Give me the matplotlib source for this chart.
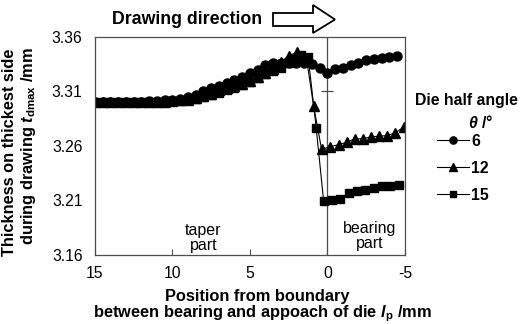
import matplotlib
matplotlib.use('Agg')
import matplotlib.pyplot as plt
from matplotlib.patches import Polygon

plt.rcParams['font.family'] = ['Liberation Sans', 'DejaVu Sans']
plt.rcParams['mathtext.fontset'] = 'custom'
plt.rcParams['mathtext.rm'] = 'Liberation Sans'
plt.rcParams['mathtext.it'] = 'Liberation Sans:italic'
plt.rcParams['mathtext.bf'] = 'Liberation Sans:bold'
plt.rcParams['mathtext.bfit'] = 'Liberation Sans:italic:bold'

# Die half angle 6 deg (circles)
x_6 = [15, 14.5, 14, 13.5, 13, 12.5, 12, 11.5, 11, 10.5, 10, 9.5, 9, 8.5, 8, 7.5, 7, 6.5, 6, 5.5,
       5, 4.5, 4, 3.5, 3, 2.5, 2, 1.5, 1, 0.5, 0, -0.5, -1, -1.5, -2, -2.5, -3, -3.5, -4, -4.5]
t_6 = [3.300, 3.300, 3.300, 3.300, 3.300, 3.300, 3.300, 3.301, 3.301, 3.302, 3.302, 3.303, 3.305,
       3.307, 3.310, 3.313, 3.315, 3.318, 3.3205, 3.323, 3.327, 3.330, 3.334, 3.336, 3.336, 3.336,
       3.336, 3.336, 3.335, 3.332, 3.327, 3.3307, 3.332, 3.3344, 3.336, 3.3386, 3.340, 3.341,
       3.342, 3.343]

# 12 deg (triangles)
x_12 = [15, 14.5, 14, 13.5, 13, 12.5, 12, 11.5, 11, 10.5, 10, 9.5, 9, 8.5, 8, 7.5, 7, 6.5, 6, 5.5,
        5, 4.5, 4, 3.5, 3, 2.5, 1.95, 1.35, 0.9, 0.38, -0.18, -0.72, -1.25, -1.77, -2.27, -2.8,
        -3.32, -3.85, -4.38, -4.93]
t_12 = [3.300, 3.300, 3.300, 3.300, 3.300, 3.300, 3.300, 3.300, 3.300, 3.300, 3.301, 3.302, 3.302,
        3.304, 3.306, 3.308, 3.311, 3.313, 3.315, 3.317, 3.320, 3.323, 3.327, 3.331, 3.337,
        3.343, 3.346, 3.340, 3.297, 3.2568, 3.2595, 3.2611, 3.2635, 3.2666, 3.2666, 3.2684,
        3.2690, 3.2696, 3.2721, 3.2776]

# 15 deg (squares)
x_15 = [15, 14.5, 14, 13.5, 13, 12.5, 12, 11.5, 11, 10.5, 10, 9.5, 9, 8.5, 8, 7.5, 7, 6.5, 6, 5.5,
        5, 4.5, 4, 3.5, 3, 2.5, 2, 1.7, 1.25, 0.73, 0.25, -0.28, -0.82, -1.38, -1.9, -2.42, -3.0,
        -3.5, -4.03, -4.6]
t_15 = [3.300, 3.300, 3.300, 3.300, 3.300, 3.300, 3.300, 3.300, 3.300, 3.300, 3.301, 3.301, 3.302,
        3.303, 3.305, 3.307, 3.309, 3.311, 3.313, 3.316, 3.319, 3.322, 3.326, 3.329, 3.332,
        3.336, 3.340, 3.3438, 3.342, 3.2767, 3.2095, 3.2101, 3.2116, 3.2165, 3.2183, 3.2195,
        3.2214, 3.2232, 3.2232, 3.2245]

x_ticks = [15, 10, 5, 0, -5]
y_ticks = [3.16, 3.21, 3.26, 3.31, 3.36]

fig = plt.figure(figsize=(5.3, 3.24), dpi=100)
ax = fig.add_axes([95 / 530, 69 / 324, 310 / 530, 218 / 324])

ax.plot(x_6, t_6, color='black', lw=0.8, marker='o', ms=6.5, label='6')
ax.plot(x_12, t_12, color='black', lw=0.8, marker='^', ms=6.5, label='12')
ax.plot(x_15, t_15, color='black', lw=0.8, marker='s', ms=5.5, label='15')

# boundary between taper and bearing
ax.axvline(0, color='0.3', lw=0.9, zorder=0)
ax.plot([0], [3.31], marker='_', ms=8, color='0.3', mew=0.9)

ax.set_xlim(15, -5)
ax.set_ylim(3.16, 3.36)
ax.set_xticks(x_ticks)
ax.set_xticklabels(['15', '10', '5', '0', '-5'])
ax.set_yticks(y_ticks)
ax.set_yticklabels(['%.2f' % v for v in y_ticks])
ax.tick_params(axis='x', direction='in', length=4, pad=8, labelsize=11.3, color='0.3')
ax.tick_params(axis='y', direction='in', length=0, pad=9, labelsize=11.3)
for s in ax.spines.values():
    s.set_color('0.3')
    s.set_linewidth(0.9)

ax.text(8.0, 3.176, 'taper\npart', ha='center', va='center', fontsize=11.5, linespacing=1.0)
ax.text(-2.7, 3.177, 'bearing\npart', ha='center', va='center', fontsize=11.5, linespacing=1.0)

fig.text(257 / 530, 1 - 296 / 324, 'Position from boundary', ha='center', va='center',
         fontsize=11.8, fontweight='bold')
fig.text(262 / 530, 1 - 314 / 324,
         r'between bearing and appoach of die $\mathbfit{l}_{\mathbf{p}}$ /mm',
         ha='center', va='center', fontsize=11.8, fontweight='bold')

fig.text(10 / 530, 1 - 152 / 324, 'Thickness on thickest side', rotation=90,
         ha='center', va='center', fontsize=11.8, fontweight='bold')
fig.text(29 / 530, 1 - 146 / 324,
         r'during drawing $\mathbfit{t}_{\mathbf{dmax}}$ /mm', rotation=90,
         ha='center', va='center', fontsize=11.8, fontweight='bold')

# drawing direction
fig.text(112 / 530, 1 - 19 / 324, 'Drawing direction', ha='left', va='center',
         fontsize=12.8, fontweight='bold')
arrow_pts = [(273, 13), (313, 13), (313, 5), (335, 19.5), (313, 33), (313, 26), (273, 26)]
arrow = Polygon([(px / 530, 1 - py / 324) for px, py in arrow_pts], closed=True,
                transform=fig.transFigure, facecolor='white', edgecolor='black', lw=1.3)
fig.patches.append(arrow)

# legend
fig.text(466 / 530, 1 - 100 / 324, 'Die half angle', ha='center', va='center',
         fontsize=11.4, fontweight='bold')
fig.text(481 / 530, 1 - 122 / 324, r'$\mathbfit{\theta}$ /°', ha='center', va='center',
         fontsize=11.4, fontweight='bold')
leg = ax.legend(loc='upper left', bbox_to_anchor=(437 / 530, 1 - 134 / 324),
                bbox_transform=fig.transFigure, frameon=False, handlelength=2.0,
                handletextpad=0.15, labelspacing=0.75, borderpad=0, borderaxespad=0,
                markerscale=0.8, prop={'size': 11.4, 'weight': 'bold'})

fig.savefig('out.png', dpi=100)
